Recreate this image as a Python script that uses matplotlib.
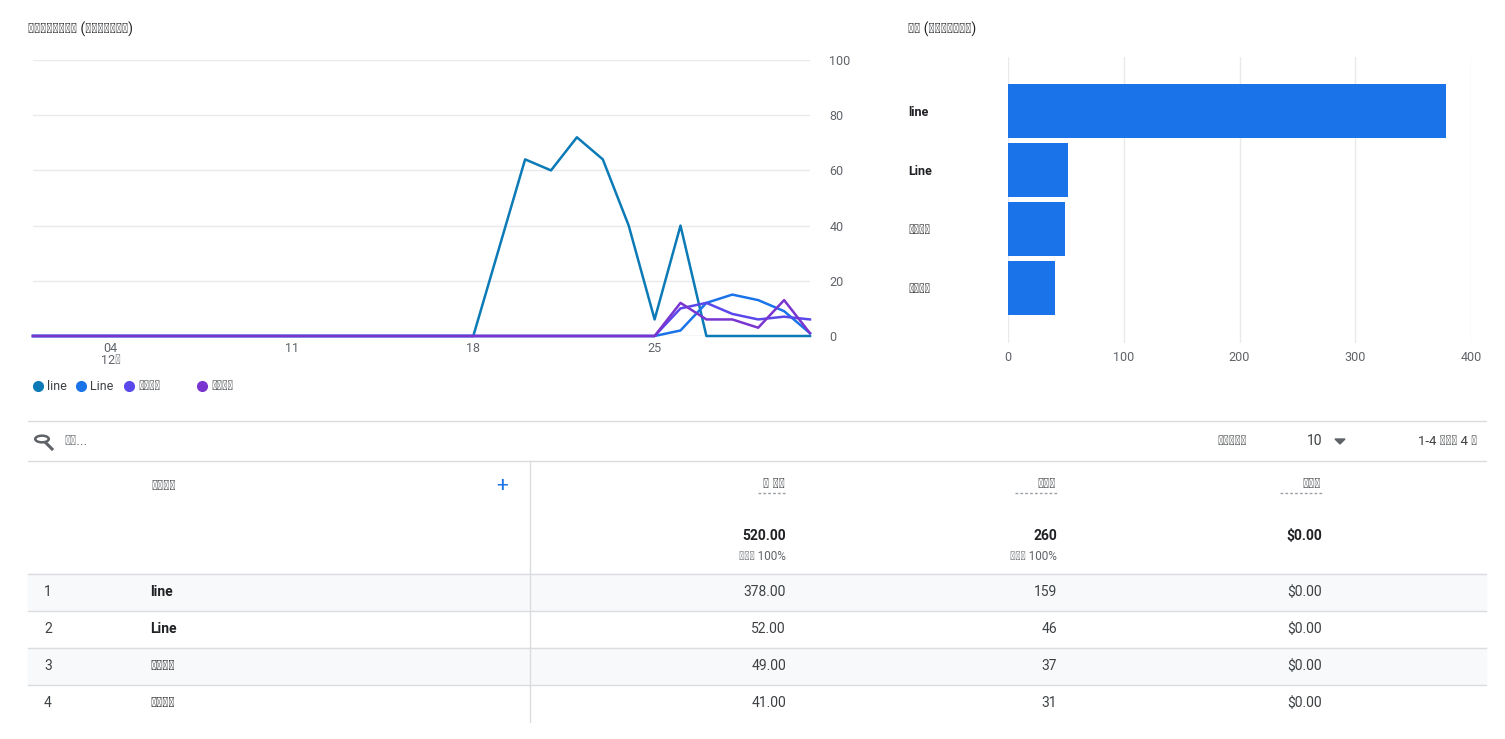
import matplotlib
matplotlib.use("Agg")
import matplotlib.pyplot as plt
from matplotlib import font_manager
from matplotlib.lines import Line2D
from matplotlib.patches import Rectangle
import numpy as np

cjk = None
for f in font_manager.fontManager.ttflist:
    if "CJK" in f.name and ("TC" in f.name or cjk is None):
        cjk = f.name
        if "TC" in f.name:
            break
if cjk is None:
    for p in font_manager.findSystemFonts():
        if "CJK" in p:
            font_manager.fontManager.addfont(p)
            cjk = font_manager.FontProperties(fname=p).get_name()
            break
plt.rcParams["font.family"] = ["sans-serif"]
plt.rcParams["font.sans-serif"] = ["Roboto", cjk or "Noto Sans CJK TC", "DejaVu Sans"]

days = list(range(1, 32))
s_line = [0]*17 + [0, 32, 64, 60, 72, 64, 40, 6, 40, 0, 0, 0, 0, 0]
s_Line = [0]*24 + [0, 2, 12, 15, 13, 9, 1]
s_form = [0]*24 + [0, 10, 12, 8, 6, 7, 6]
s_call = [0]*24 + [0, 12, 6, 6, 3, 13, 1]
series_names = ["line", "Line", "填寫表單", "撥打電話"]
colors = ["#0b7ab6", "#1a73e8", "#5a48ea", "#7a35d0"]
bar_vals = [378, 52, 49, 41]
users = [159, 46, 37, 31]
revenue = ["$0.00"]*4
total_conv, total_users, total_rev = "520.00", "260", "$0.00"

W, H = 1505, 739
fig = plt.figure(figsize=(W/100, H/100), dpi=100)

def ax_rect(l, t, r, b):
    return [l/W, 1-b/H, (r-l)/W, (b-t)/H]

def T(x, y, s, **kw):
    kw.setdefault("fontsize", 9.5)
    kw.setdefault("color", "#3c4043")
    kw.setdefault("va", "center")
    fig.text(x/W, 1-y/H, s, **kw)

def HL(y, x0, x1, c="#dadce0", lw=1):
    fig.add_artist(Line2D([x0/W, x1/W], [1-y/H, 1-y/H], color=c, lw=lw))

def VL(x, y0, y1, c="#dadce0", lw=1):
    fig.add_artist(Line2D([x/W, x/W], [1-y0/H, 1-y1/H], color=c, lw=lw))

# Line chart
ax = fig.add_axes(ax_rect(33, 60, 810, 336))
for s, c in zip([s_line, s_Line, s_form, s_call], colors):
    ax.plot(days, s, color=c, lw=1.8, clip_on=False)
ax.set_xlim(1, 31)
ax.set_ylim(0, 100)
ax.set_yticks([0, 20, 40, 60, 80, 100])
ax.yaxis.tick_right()
ax.tick_params(axis="y", length=0, pad=14, labelsize=9, labelcolor="#5f6368")
ax.set_xticks([4, 11, 18, 25])
ax.set_xticklabels(["04\n12月", "11", "18", "25"], fontsize=9, color="#5f6368", linespacing=0.9)
ax.tick_params(axis="x", length=0, pad=4)
ax.grid(axis="y", color="#e8eaed", lw=1)
for sp in ax.spines.values():
    sp.set_visible(False)
ax.axhline(0, color="#dadce0", lw=1, zorder=0)
T(28, 29, "一段時間內的轉換 (按事件名稱劃分)", fontsize=10, color="#202124")
lx = [38, 81, 129, 202]
for x, n, c in zip(lx, series_names, colors):
    fig.add_artist(Line2D([x/W], [1-386/H], marker="o", ms=7, color=c, lw=0))
    T(x+9, 386, n, fontsize=9, color="#3c4043")

# Bar chart
bx = fig.add_axes(ax_rect(1008, 57, 1471, 343))
y = np.arange(len(bar_vals))
bx.barh(y, bar_vals, height=0.9, color="#1a73e8")
top = -54/59
bx.set_ylim(top + 286/59, top)
bx.set_xlim(0, 400)
bx.set_xticks([0, 100, 200, 300, 400])
bx.tick_params(axis="x", length=0, labelsize=9, labelcolor="#5f6368", pad=6)
bx.set_yticks(y)
bx.set_yticklabels(series_names, fontsize=9, color="#202124")
for lab in bx.get_yticklabels()[:2]:
    lab.set_fontweight("bold")
for lab in bx.get_yticklabels():
    lab.set_ha("left")
bx.tick_params(axis="y", length=0, pad=72)
bx.grid(axis="x", color="#e8eaed", lw=1)
bx.set_axisbelow(True)
for sp in bx.spines.values():
    sp.set_visible(False)
T(908, 29, "轉換 (按事件名稱劃分)", fontsize=10, color="#202124")

# Table
HL(421, 28, 1486)
circ = plt.Circle((42/W, 1-439/H), 0.0045, transform=fig.transFigure, fill=False, color="#5f6368", lw=1.8)
fig.add_artist(circ)
fig.add_artist(Line2D([46/W, 52/W], [1-443/H, 1-449/H], color="#5f6368", lw=2.2))
T(64, 441, "搜尋...", fontsize=10, color="#5f6368")
T(1217, 441, "每頁列數：", fontsize=9.5)
T(1307, 441, "10", fontsize=10)
fig.add_artist(plt.Polygon([[1335/W, 1-439/H], [1345/W, 1-439/H], [1340/W, 1-444/H]], transform=fig.transFigure, color="#5f6368"))
T(1477, 441, "1-4 列，共 4 列", fontsize=9.5, ha="right")
HL(461, 28, 1486)
VL(530, 461, 722)
T(151, 486, "事件名稱", fontsize=10)
T(502, 486, "+", fontsize=15, color="#1a73e8", ha="center")
T(785, 484, "↓ 轉換", fontsize=10, ha="right")
T(1056, 484, "總人數", fontsize=10, ha="right")
T(1321, 484, "總收益", fontsize=10, ha="right")
for x0, x1 in [(758, 786), (1015, 1057), (1280, 1322)]:
    fig.add_artist(Line2D([x0/W, x1/W], [1-493/H]*2, color="#9aa0a6", lw=1, ls=(0, (2, 1.5))))
T(786, 536, total_conv, fontsize=10, ha="right", fontweight="bold", color="#202124")
T(1057, 536, total_users, fontsize=10, ha="right", fontweight="bold", color="#202124")
T(1322, 536, total_rev, fontsize=10, ha="right", fontweight="bold", color="#202124")
T(786, 557, "總數的 100%", fontsize=8.5, ha="right", color="#5f6368")
T(1057, 557, "總數的 100%", fontsize=8.5, ha="right", color="#5f6368")
rows_y = [592, 629, 666, 703]
for i, yy in enumerate(rows_y):
    if i % 2 == 0:
        fig.add_artist(Rectangle((28/W, 1-(yy+18)/H), (1486-28)/W, 36/H, transform=fig.transFigure, color="#f8f9fa", zorder=-1))
    HL(yy-18, 28, 1486)
    T(44, yy, str(i+1), fontsize=10)
    T(150, yy, series_names[i], fontsize=10, color="#202124", fontweight="bold" if i < 2 else "normal")
    T(786, yy, f"{bar_vals[i]:.2f}", fontsize=10, ha="right")
    T(1057, yy, str(users[i]), fontsize=10, ha="right")
    T(1322, yy, revenue[i], fontsize=10, ha="right")

fig.savefig("out.png", dpi=100)
